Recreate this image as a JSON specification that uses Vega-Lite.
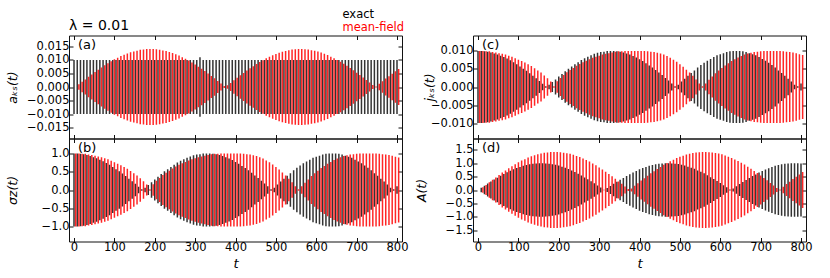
{
"$schema":"https://vega.github.io/schema/vega-lite/v6.json",
"background":"white",
"padding":{"left":5,"top":9.5,"right":5,"bottom":5},
"config":{"font":"DejaVu Sans","view":{"stroke":"#111","strokeWidth":1},
"axis":{"domain":false,"grid":false,"tickColor":"#111","tickSize":-4,"labelFontSize":11.5,"labelColor":"#000","labelPadding":4,"titleFontWeight":"normal","titleFontSize":12.5,"titleColor":"#000","titleFontStyle":"italic"},
"axisX":{"tickCount":8},
"range":{"category":["#000000","#ff0000"]},
"text":{"font":"DejaVu Sans","fontSize":13}},
"datasets":{"s":[
{"t":0,"ae":0.01,"am":0,"be":1,"bm":1,"ce":0.01,"cm":0.01,"de":0,"dm":0},
{"t":8,"ae":0.01,"am":0.001,"be":1,"bm":1,"ce":0.01,"cm":0.01,"de":0.08,"dm":0.1},
{"t":16,"ae":0.01,"am":0.0019,"be":0.99,"bm":0.99,"ce":0.0099,"cm":0.0099,"de":0.16,"dm":0.19},
{"t":24,"ae":0.01,"am":0.0028,"be":0.98,"bm":0.99,"ce":0.0098,"cm":0.0099,"de":0.24,"dm":0.29},
{"t":32,"ae":0.01,"am":0.0038,"be":0.96,"bm":0.97,"ce":0.0096,"cm":0.0097,"de":0.32,"dm":0.38},
{"t":40,"ae":0.01,"am":0.0046,"be":0.93,"bm":0.96,"ce":0.0093,"cm":0.0096,"de":0.39,"dm":0.47},
{"t":48,"ae":0.01,"am":0.0055,"be":0.9,"bm":0.94,"ce":0.009,"cm":0.0094,"de":0.46,"dm":0.56},
{"t":56,"ae":0.01,"am":0.0064,"be":0.87,"bm":0.92,"ce":0.0087,"cm":0.0092,"de":0.53,"dm":0.65},
{"t":64,"ae":0.01,"am":0.0072,"be":0.83,"bm":0.9,"ce":0.0083,"cm":0.009,"de":0.6,"dm":0.73},
{"t":72,"ae":0.01,"am":0.008,"be":0.79,"bm":0.87,"ce":0.0079,"cm":0.0087,"de":0.66,"dm":0.81},
{"t":80,"ae":0.01,"am":0.0088,"be":0.74,"bm":0.84,"ce":0.0074,"cm":0.0084,"de":0.72,"dm":0.89},
{"t":88,"ae":0.01,"am":0.0095,"be":0.69,"bm":0.8,"ce":0.0069,"cm":0.008,"de":0.77,"dm":0.96},
{"t":96,"ae":0.01,"am":0.0102,"be":0.63,"bm":0.76,"ce":0.0063,"cm":0.0076,"de":0.82,"dm":1.03},
{"t":104,"ae":0.01,"am":0.0108,"be":0.57,"bm":0.72,"ce":0.0057,"cm":0.0072,"de":0.86,"dm":1.1},
{"t":112,"ae":0.01,"am":0.0114,"be":0.51,"bm":0.68,"ce":0.0051,"cm":0.0068,"de":0.9,"dm":1.15},
{"t":120,"ae":0.01,"am":0.0119,"be":0.45,"bm":0.63,"ce":0.0045,"cm":0.0063,"de":0.93,"dm":1.21},
{"t":128,"ae":0.01,"am":0.0124,"be":0.38,"bm":0.58,"ce":0.0038,"cm":0.0058,"de":0.96,"dm":1.26},
{"t":136,"ae":0.01,"am":0.0128,"be":0.31,"bm":0.52,"ce":0.0031,"cm":0.0052,"de":0.98,"dm":1.3},
{"t":144,"ae":0.01,"am":0.0131,"be":0.24,"bm":0.46,"ce":0.0024,"cm":0.0046,"de":0.99,"dm":1.33},
{"t":152,"ae":0.01,"am":0.0134,"be":0.17,"bm":0.4,"ce":0.0017,"cm":0.004,"de":1,"dm":1.36},
{"t":160,"ae":0.01,"am":0.0137,"be":0.09,"bm":0.32,"ce":0.0009,"cm":0.0032,"de":1,"dm":1.39},
{"t":168,"ae":0.01,"am":0.0138,"be":0.02,"bm":0.24,"ce":0.0002,"cm":0.0024,"de":0.99,"dm":1.4},
{"t":176,"ae":0.01,"am":0.014,"be":0.06,"bm":0.15,"ce":0.0006,"cm":0.0015,"de":0.98,"dm":1.42},
{"t":184,"ae":0.01,"am":0.014,"be":0.14,"bm":0.02,"ce":0.0014,"cm":0.0002,"de":0.96,"dm":1.42},
{"t":192,"ae":0.01,"am":0.014,"be":0.21,"bm":0.16,"ce":0.0021,"cm":0.0016,"de":0.94,"dm":1.42},
{"t":200,"ae":0.01,"am":0.0139,"be":0.29,"bm":0.25,"ce":0.0029,"cm":0.0025,"de":0.91,"dm":1.41},
{"t":208,"ae":0.01,"am":0.0137,"be":0.36,"bm":0.33,"ce":0.0036,"cm":0.0033,"de":0.87,"dm":1.39},
{"t":216,"ae":0.01,"am":0.0135,"be":0.44,"bm":0.41,"ce":0.0044,"cm":0.0041,"de":0.83,"dm":1.37},
{"t":224,"ae":0.01,"am":0.0133,"be":0.51,"bm":0.47,"ce":0.0051,"cm":0.0047,"de":0.78,"dm":1.35},
{"t":232,"ae":0.01,"am":0.0129,"be":0.57,"bm":0.53,"ce":0.0057,"cm":0.0053,"de":0.73,"dm":1.31},
{"t":240,"ae":0.01,"am":0.0125,"be":0.63,"bm":0.59,"ce":0.0063,"cm":0.0059,"de":0.67,"dm":1.27},
{"t":248,"ae":0.01,"am":0.0121,"be":0.69,"bm":0.64,"ce":0.0069,"cm":0.0064,"de":0.61,"dm":1.23},
{"t":256,"ae":0.01,"am":0.0116,"be":0.75,"bm":0.69,"ce":0.0075,"cm":0.0069,"de":0.54,"dm":1.17},
{"t":264,"ae":0.01,"am":0.011,"be":0.8,"bm":0.73,"ce":0.008,"cm":0.0073,"de":0.47,"dm":1.12},
{"t":272,"ae":0.01,"am":0.0104,"be":0.84,"bm":0.77,"ce":0.0084,"cm":0.0077,"de":0.4,"dm":1.06},
{"t":280,"ae":0.01,"am":0.0098,"be":0.88,"bm":0.81,"ce":0.0088,"cm":0.0081,"de":0.33,"dm":0.99},
{"t":288,"ae":0.01,"am":0.009,"be":0.92,"bm":0.84,"ce":0.0092,"cm":0.0084,"de":0.25,"dm":0.92},
{"t":296,"ae":0.01,"am":0.0083,"be":0.95,"bm":0.87,"ce":0.0095,"cm":0.0087,"de":0.17,"dm":0.84},
{"t":304,"ae":0.01,"am":0.0075,"be":0.97,"bm":0.9,"ce":0.0097,"cm":0.009,"de":0.09,"dm":0.76},
{"t":312,"ae":0.011,"am":0.0067,"be":0.98,"bm":0.92,"ce":0.0098,"cm":0.0092,"de":0.01,"dm":0.68},
{"t":320,"ae":0.01,"am":0.0059,"be":1,"bm":0.94,"ce":0.01,"cm":0.0094,"de":0.07,"dm":0.6},
{"t":328,"ae":0.01,"am":0.005,"be":1,"bm":0.96,"ce":0.01,"cm":0.0096,"de":0.15,"dm":0.51},
{"t":336,"ae":0.01,"am":0.0041,"be":1,"bm":0.98,"ce":0.01,"cm":0.0098,"de":0.23,"dm":0.42},
{"t":344,"ae":0.01,"am":0.0032,"be":0.99,"bm":0.99,"ce":0.0099,"cm":0.0099,"de":0.31,"dm":0.32},
{"t":352,"ae":0.01,"am":0.0022,"be":0.98,"bm":0.99,"ce":0.0098,"cm":0.0099,"de":0.38,"dm":0.23},
{"t":360,"ae":0.01,"am":0.0013,"be":0.96,"bm":1,"ce":0.0096,"cm":0.01,"de":0.45,"dm":0.13},
{"t":368,"ae":0.01,"am":0.0004,"be":0.93,"bm":1,"ce":0.0093,"cm":0.01,"de":0.52,"dm":0.04},
{"t":376,"ae":0.01,"am":0.0006,"be":0.9,"bm":1,"ce":0.009,"cm":0.01,"de":0.59,"dm":0.06},
{"t":384,"ae":0.01,"am":0.0015,"be":0.86,"bm":1,"ce":0.0086,"cm":0.01,"de":0.65,"dm":0.16},
{"t":392,"ae":0.01,"am":0.0025,"be":0.82,"bm":1,"ce":0.0082,"cm":0.01,"de":0.71,"dm":0.25},
{"t":400,"ae":0.01,"am":0.0034,"be":0.77,"bm":1,"ce":0.0077,"cm":0.01,"de":0.77,"dm":0.35},
{"t":408,"ae":0.01,"am":0.0043,"be":0.72,"bm":1,"ce":0.0072,"cm":0.01,"de":0.82,"dm":0.44},
{"t":416,"ae":0.01,"am":0.0052,"be":0.66,"bm":0.99,"ce":0.0066,"cm":0.0099,"de":0.86,"dm":0.53},
{"t":424,"ae":0.01,"am":0.0061,"be":0.6,"bm":0.98,"ce":0.006,"cm":0.0098,"de":0.9,"dm":0.62},
{"t":432,"ae":0.01,"am":0.0069,"be":0.54,"bm":0.97,"ce":0.0054,"cm":0.0097,"de":0.93,"dm":0.7},
{"t":440,"ae":0.01,"am":0.0077,"be":0.47,"bm":0.95,"ce":0.0047,"cm":0.0095,"de":0.96,"dm":0.78},
{"t":448,"ae":0.01,"am":0.0085,"be":0.4,"bm":0.93,"ce":0.004,"cm":0.0093,"de":0.98,"dm":0.86},
{"t":456,"ae":0.01,"am":0.0092,"be":0.33,"bm":0.9,"ce":0.0033,"cm":0.009,"de":0.99,"dm":0.94},
{"t":464,"ae":0.01,"am":0.0099,"be":0.25,"bm":0.86,"ce":0.0025,"cm":0.0086,"de":1,"dm":1.01},
{"t":472,"ae":0.01,"am":0.0106,"be":0.18,"bm":0.81,"ce":0.0018,"cm":0.0081,"de":1,"dm":1.07},
{"t":480,"ae":0.01,"am":0.0112,"be":0.1,"bm":0.76,"ce":0.001,"cm":0.0076,"de":0.99,"dm":1.13},
{"t":488,"ae":0.01,"am":0.0117,"be":0.02,"bm":0.7,"ce":0.0002,"cm":0.007,"de":0.98,"dm":1.19},
{"t":496,"ae":0.01,"am":0.0122,"be":0.06,"bm":0.63,"ce":0.0006,"cm":0.0063,"de":0.97,"dm":1.24},
{"t":504,"ae":0.01,"am":0.0126,"be":0.15,"bm":0.56,"ce":0.0015,"cm":0.0056,"de":0.94,"dm":1.28},
{"t":512,"ae":0.01,"am":0.013,"be":0.23,"bm":0.48,"ce":0.0023,"cm":0.0048,"de":0.91,"dm":1.32},
{"t":520,"ae":0.01,"am":0.0133,"be":0.31,"bm":0.4,"ce":0.0031,"cm":0.004,"de":0.87,"dm":1.35},
{"t":528,"ae":0.01,"am":0.0136,"be":0.39,"bm":0.31,"ce":0.0039,"cm":0.0031,"de":0.83,"dm":1.38},
{"t":536,"ae":0.01,"am":0.0138,"be":0.46,"bm":0.21,"ce":0.0046,"cm":0.0021,"de":0.79,"dm":1.4},
{"t":544,"ae":0.01,"am":0.0139,"be":0.54,"bm":0.1,"ce":0.0054,"cm":0.001,"de":0.73,"dm":1.41},
{"t":552,"ae":0.01,"am":0.014,"be":0.61,"bm":0.02,"ce":0.0061,"cm":0.0002,"de":0.68,"dm":1.42},
{"t":560,"ae":0.01,"am":0.014,"be":0.67,"bm":0.1,"ce":0.0067,"cm":0.001,"de":0.62,"dm":1.42},
{"t":568,"ae":0.01,"am":0.0139,"be":0.73,"bm":0.2,"ce":0.0073,"cm":0.002,"de":0.55,"dm":1.41},
{"t":576,"ae":0.01,"am":0.0138,"be":0.78,"bm":0.29,"ce":0.0078,"cm":0.0029,"de":0.48,"dm":1.4},
{"t":584,"ae":0.01,"am":0.0136,"be":0.83,"bm":0.38,"ce":0.0083,"cm":0.0038,"de":0.41,"dm":1.38},
{"t":592,"ae":0.01,"am":0.0134,"be":0.88,"bm":0.46,"ce":0.0088,"cm":0.0046,"de":0.34,"dm":1.36},
{"t":600,"ae":0.01,"am":0.0131,"be":0.91,"bm":0.53,"ce":0.0091,"cm":0.0053,"de":0.26,"dm":1.33},
{"t":608,"ae":0.01,"am":0.0127,"be":0.94,"bm":0.6,"ce":0.0094,"cm":0.006,"de":0.18,"dm":1.29},
{"t":616,"ae":0.01,"am":0.0123,"be":0.97,"bm":0.66,"ce":0.0097,"cm":0.0066,"de":0.1,"dm":1.24},
{"t":624,"ae":0.01,"am":0.0118,"be":0.99,"bm":0.72,"ce":0.0099,"cm":0.0072,"de":0.02,"dm":1.19},
{"t":632,"ae":0.01,"am":0.0112,"be":1,"bm":0.77,"ce":0.01,"cm":0.0077,"de":0.06,"dm":1.14},
{"t":640,"ae":0.01,"am":0.0106,"be":1,"bm":0.82,"ce":0.01,"cm":0.0082,"de":0.14,"dm":1.08},
{"t":648,"ae":0.01,"am":0.01,"be":1,"bm":0.86,"ce":0.01,"cm":0.0086,"de":0.22,"dm":1.02},
{"t":656,"ae":0.01,"am":0.0093,"be":0.99,"bm":0.9,"ce":0.0099,"cm":0.009,"de":0.3,"dm":0.95},
{"t":664,"ae":0.01,"am":0.0086,"be":0.97,"bm":0.93,"ce":0.0097,"cm":0.0093,"de":0.37,"dm":0.87},
{"t":672,"ae":0.01,"am":0.0078,"be":0.94,"bm":0.95,"ce":0.0094,"cm":0.0095,"de":0.45,"dm":0.79},
{"t":680,"ae":0.01,"am":0.007,"be":0.91,"bm":0.97,"ce":0.0091,"cm":0.0097,"de":0.52,"dm":0.71},
{"t":688,"ae":0.01,"am":0.0062,"be":0.88,"bm":0.98,"ce":0.0088,"cm":0.0098,"de":0.58,"dm":0.63},
{"t":696,"ae":0.01,"am":0.0053,"be":0.83,"bm":0.99,"ce":0.0083,"cm":0.0099,"de":0.65,"dm":0.54},
{"t":704,"ae":0.01,"am":0.0044,"be":0.78,"bm":1,"ce":0.0078,"cm":0.01,"de":0.71,"dm":0.45},
{"t":712,"ae":0.01,"am":0.0035,"be":0.73,"bm":1,"ce":0.0073,"cm":0.01,"de":0.76,"dm":0.36},
{"t":720,"ae":0.01,"am":0.0026,"be":0.67,"bm":1,"ce":0.0067,"cm":0.01,"de":0.81,"dm":0.26},
{"t":728,"ae":0.01,"am":0.0017,"be":0.61,"bm":1,"ce":0.0061,"cm":0.01,"de":0.86,"dm":0.17},
{"t":736,"ae":0.01,"am":0.0007,"be":0.54,"bm":1,"ce":0.0054,"cm":0.01,"de":0.9,"dm":0.07},
{"t":744,"ae":0.01,"am":0.0002,"be":0.46,"bm":1,"ce":0.0046,"cm":0.01,"de":0.93,"dm":0.02},
{"t":752,"ae":0.01,"am":0.0012,"be":0.39,"bm":0.99,"ce":0.0039,"cm":0.0099,"de":0.96,"dm":0.12},
{"t":760,"ae":0.01,"am":0.0021,"be":0.31,"bm":0.98,"ce":0.0031,"cm":0.0098,"de":0.98,"dm":0.22},
{"t":768,"ae":0.01,"am":0.0031,"be":0.23,"bm":0.97,"ce":0.0023,"cm":0.0097,"de":0.99,"dm":0.31},
{"t":776,"ae":0.01,"am":0.004,"be":0.15,"bm":0.96,"ce":0.0015,"cm":0.0096,"de":1,"dm":0.41},
{"t":784,"ae":0.01,"am":0.0049,"be":0.06,"bm":0.94,"ce":0.0006,"cm":0.0094,"de":1,"dm":0.49},
{"t":792,"ae":0.01,"am":0.0058,"be":0.02,"bm":0.91,"ce":0.0002,"cm":0.0091,"de":1,"dm":0.58},
{"t":800,"ae":0.01,"am":0.0066,"be":0.1,"bm":0.89,"ce":0.001,"cm":0.0089,"de":0.99,"dm":0.67}
]},
"spacing":5,
"hconcat":[
{"vconcat":[
{"width":333,"height":103,"data":{"name":"s"},
"title":{"text":"λ = 0.01","anchor":"start","frame":"group","fontSize":14,"fontWeight":"normal","offset":2},
"resolve":{"scale":{"y":"independent"}},
"layer":[
{"mark":{"type":"bar","orient":"vertical","width":1.5,"opacity":0.8,"clip":true},
"encoding":{"x":{"field":"t","type":"quantitative","scale":{"domain":[0,800],"nice":false},"axis":{"orient":"bottom","labels":false,"title":null}},
"y":{"field":"ae","type":"quantitative","scale":{"domain":[-0.019,0.019],"nice":false},"axis":{"values":[-0.015,-0.01,-0.005,0,0.005,0.01,0.015],"format":".3f","title":"aₖₛ(t)","titleX":-49.5}},
"color":{"datum":"exact","type":"nominal","legend":{"orient":"none","legendX":262,"legendY":-26,"title":null,"symbolSize":0,"symbolOpacity":0,"labelOffset":0,"labelFontSize":11.5,"rowPadding":-0.5,"encode":{"labels":{"update":{"fill":{"scale":"color","field":"value"}}}}}}}},
{"mark":{"type":"bar","orient":"vertical","width":1.5,"opacity":0.8,"clip":true},
"encoding":{"x":{"field":"t","type":"quantitative","axis":{"orient":"top","labels":false,"title":null}},
"y":{"field":"ae","type":"quantitative","scale":{"domain":[-0.019,0.019],"nice":false,"reverse":true},"axis":{"orient":"right","values":[-0.015,-0.01,-0.005,0,0.005,0.01,0.015],"labels":false,"title":null}},
"color":{"datum":"exact","type":"nominal","legend":null}}},
{"mark":{"type":"bar","orient":"vertical","width":1.5,"opacity":0.85,"clip":true,"xOffset":1.66},
"encoding":{"x":{"field":"t","type":"quantitative","axis":null},
"y":{"field":"am","type":"quantitative","scale":{"domain":[-0.019,0.019],"nice":false},"axis":null},
"color":{"datum":"mean-field","type":"nominal","legend":null}}},
{"mark":{"type":"bar","orient":"vertical","width":1.5,"opacity":0.85,"clip":true,"xOffset":1.66},
"encoding":{"x":{"field":"t","type":"quantitative","axis":null},
"y":{"field":"am","type":"quantitative","scale":{"domain":[-0.019,0.019],"nice":false,"reverse":true},"axis":null},
"color":{"datum":"mean-field","type":"nominal","legend":null}}},
{"data":{"values":[{"lab":"(a)"}]},"mark":{"type":"text","align":"left","baseline":"top","dx":4,"dy":3},
"encoding":{"x":{"datum":0,"type":"quantitative","axis":null},"y":{"datum":0.019,"type":"quantitative","scale":{"domain":[-0.019,0.019],"nice":false},"axis":null},"text":{"field":"lab"}}}
]},
{"width":333,"height":103,"data":{"name":"s"},
"resolve":{"scale":{"y":"independent"}},
"layer":[
{"mark":{"type":"bar","orient":"vertical","width":1.5,"opacity":0.8,"clip":true},
"encoding":{"x":{"field":"t","type":"quantitative","scale":{"domain":[0,800],"nice":false},"axis":{"orient":"bottom","format":"d","title":"t","titlePadding":4,"titleFontSize":13}},
"y":{"field":"be","type":"quantitative","scale":{"domain":[-1.41,1.41],"nice":false},"axis":{"values":[-1,-0.5,0,0.5,1],"format":".1f","title":"σz(t)","titleX":-49.5}},
"color":{"datum":"exact","type":"nominal","legend":null}}},
{"mark":{"type":"bar","orient":"vertical","width":1.5,"opacity":0.8,"clip":true},
"encoding":{"x":{"field":"t","type":"quantitative","axis":{"orient":"top","labels":false,"title":null}},
"y":{"field":"be","type":"quantitative","scale":{"domain":[-1.41,1.41],"nice":false,"reverse":true},"axis":{"orient":"right","values":[-1,-0.5,0,0.5,1],"labels":false,"title":null}},
"color":{"datum":"exact","type":"nominal","legend":null}}},
{"mark":{"type":"bar","orient":"vertical","width":1.5,"opacity":0.85,"clip":true,"xOffset":1.66},
"encoding":{"x":{"field":"t","type":"quantitative","axis":null},
"y":{"field":"bm","type":"quantitative","scale":{"domain":[-1.41,1.41],"nice":false},"axis":null},
"color":{"datum":"mean-field","type":"nominal","legend":null}}},
{"mark":{"type":"bar","orient":"vertical","width":1.5,"opacity":0.85,"clip":true,"xOffset":1.66},
"encoding":{"x":{"field":"t","type":"quantitative","axis":null},
"y":{"field":"bm","type":"quantitative","scale":{"domain":[-1.41,1.41],"nice":false,"reverse":true},"axis":null},
"color":{"datum":"mean-field","type":"nominal","legend":null}}},
{"data":{"values":[{"lab":"(b)"}]},"mark":{"type":"text","align":"left","baseline":"top","dx":4,"dy":3},
"encoding":{"x":{"datum":0,"type":"quantitative","axis":null},"y":{"datum":1.41,"type":"quantitative","scale":{"domain":[-1.41,1.41],"nice":false},"axis":null},"text":{"field":"lab"}}}
]}
],"spacing":0,"bounds":"flush"},
{"vconcat":[
{"width":333,"height":103,"data":{"name":"s"},
"resolve":{"scale":{"y":"independent"}},
"layer":[
{"mark":{"type":"bar","orient":"vertical","width":1.5,"opacity":0.8,"clip":true},
"encoding":{"x":{"field":"t","type":"quantitative","scale":{"domain":[0,800],"nice":false},"axis":{"orient":"bottom","labels":false,"title":null}},
"y":{"field":"ce","type":"quantitative","scale":{"domain":[-0.0143,0.0143],"nice":false},"axis":{"values":[-0.01,-0.005,0,0.005,0.01],"format":".3f","title":"jₖₛ(t)","titleX":-37}},
"color":{"datum":"exact","type":"nominal","legend":null}}},
{"mark":{"type":"bar","orient":"vertical","width":1.5,"opacity":0.8,"clip":true},
"encoding":{"x":{"field":"t","type":"quantitative","axis":{"orient":"top","labels":false,"title":null}},
"y":{"field":"ce","type":"quantitative","scale":{"domain":[-0.0143,0.0143],"nice":false,"reverse":true},"axis":{"orient":"right","values":[-0.01,-0.005,0,0.005,0.01],"labels":false,"title":null}},
"color":{"datum":"exact","type":"nominal","legend":null}}},
{"mark":{"type":"bar","orient":"vertical","width":1.5,"opacity":0.85,"clip":true,"xOffset":1.66},
"encoding":{"x":{"field":"t","type":"quantitative","axis":null},
"y":{"field":"cm","type":"quantitative","scale":{"domain":[-0.0143,0.0143],"nice":false},"axis":null},
"color":{"datum":"mean-field","type":"nominal","legend":null}}},
{"mark":{"type":"bar","orient":"vertical","width":1.5,"opacity":0.85,"clip":true,"xOffset":1.66},
"encoding":{"x":{"field":"t","type":"quantitative","axis":null},
"y":{"field":"cm","type":"quantitative","scale":{"domain":[-0.0143,0.0143],"nice":false,"reverse":true},"axis":null},
"color":{"datum":"mean-field","type":"nominal","legend":null}}},
{"data":{"values":[{"lab":"(c)"}]},"mark":{"type":"text","align":"left","baseline":"top","dx":4,"dy":3},
"encoding":{"x":{"datum":0,"type":"quantitative","axis":null},"y":{"datum":0.0143,"type":"quantitative","scale":{"domain":[-0.0143,0.0143],"nice":false},"axis":null},"text":{"field":"lab"}}}
]},
{"width":333,"height":103,"data":{"name":"s"},
"resolve":{"scale":{"y":"independent"}},
"layer":[
{"mark":{"type":"bar","orient":"vertical","width":1.5,"opacity":0.8,"clip":true},
"encoding":{"x":{"field":"t","type":"quantitative","scale":{"domain":[0,800],"nice":false},"axis":{"orient":"bottom","format":"d","title":"t","titlePadding":4,"titleFontSize":13}},
"y":{"field":"de","type":"quantitative","scale":{"domain":[-1.92,1.92],"nice":false},"axis":{"values":[-1.5,-1,-0.5,0,0.5,1,1.5],"format":".1f","title":"A(t)","titleX":-44.8}},
"color":{"datum":"exact","type":"nominal","legend":null}}},
{"mark":{"type":"bar","orient":"vertical","width":1.5,"opacity":0.8,"clip":true},
"encoding":{"x":{"field":"t","type":"quantitative","axis":{"orient":"top","labels":false,"title":null}},
"y":{"field":"de","type":"quantitative","scale":{"domain":[-1.92,1.92],"nice":false,"reverse":true},"axis":{"orient":"right","values":[-1.5,-1,-0.5,0,0.5,1,1.5],"labels":false,"title":null}},
"color":{"datum":"exact","type":"nominal","legend":null}}},
{"mark":{"type":"bar","orient":"vertical","width":1.5,"opacity":0.85,"clip":true,"xOffset":1.66},
"encoding":{"x":{"field":"t","type":"quantitative","axis":null},
"y":{"field":"dm","type":"quantitative","scale":{"domain":[-1.92,1.92],"nice":false},"axis":null},
"color":{"datum":"mean-field","type":"nominal","legend":null}}},
{"mark":{"type":"bar","orient":"vertical","width":1.5,"opacity":0.85,"clip":true,"xOffset":1.66},
"encoding":{"x":{"field":"t","type":"quantitative","axis":null},
"y":{"field":"dm","type":"quantitative","scale":{"domain":[-1.92,1.92],"nice":false,"reverse":true},"axis":null},
"color":{"datum":"mean-field","type":"nominal","legend":null}}},
{"data":{"values":[{"lab":"(d)"}]},"mark":{"type":"text","align":"left","baseline":"top","dx":4,"dy":3},
"encoding":{"x":{"datum":0,"type":"quantitative","axis":null},"y":{"datum":1.92,"type":"quantitative","scale":{"domain":[-1.92,1.92],"nice":false},"axis":null},"text":{"field":"lab"}}}
]}
],"spacing":0,"bounds":"flush"}
]
}
